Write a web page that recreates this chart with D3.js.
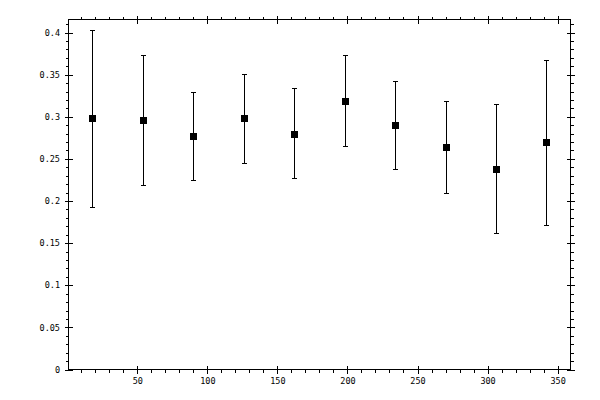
<!DOCTYPE html>
<html>
<head>
<meta charset="utf-8">
<script src="https://cdn.jsdelivr.net/npm/d3@7"></script>
<style>
	body { margin: 0; background: #fff; }
	text { font-family: 'DejaVu Sans Mono', monospace; font-size: 8.5px; fill: #000; }
</style>
</head>
<body>
<div id="chart"></div>
<script>
// angle bins (x) and measured values
xs = [18, 54, 90, 126, 162, 198, 234, 270, 306, 342];
means = [0.298, 0.296, 0.277, 0.298, 0.279, 0.319, 0.290, 0.264, 0.238, 0.270];
uppers = [0.403, 0.373, 0.329, 0.350, 0.333, 0.373, 0.342, 0.318, 0.314, 0.367];
lowers = [0.192, 0.218, 0.224, 0.245, 0.227, 0.265, 0.238, 0.209, 0.162, 0.171];

xMajor = [50, 100, 150, 200, 250, 300, 350];
yMajor = [0, 0.05, 0.1, 0.15, 0.2, 0.25, 0.3, 0.35, 0.4];

var width = 600, height = 400;
var margin = { top: 19.5, right: 29.5, bottom: 30.5, left: 68.5 };

function drawChart() {
	var svg = d3.select('#chart').append('svg')
		.attr('width', width)
		.attr('height', height);

	var x = d3.scaleLinear().domain([0.9, 359.2])
		.range([margin.left, width - margin.right]);
	var y = d3.scaleLinear().domain([0, 0.4155])
		.range([height - margin.bottom, margin.top]);

	var xMinor = d3.range(10, 360, 10).filter(d => d % 50 != 0);
	var yMinor = d3.range(1, 42).map(d => d / 100).filter(d => Math.round(d * 100) % 5 != 0);

	// frame
	svg.append('rect')
		.attr('x', margin.left).attr('y', margin.top)
		.attr('width', width - margin.left - margin.right)
		.attr('height', height - margin.top - margin.bottom)
		.attr('fill', 'none').attr('stroke', '#000')
		.attr('shape-rendering', 'crispEdges');

	// minor ticks, pointing out of the frame on every side
	function minor(axis, tx, ty) {
		svg.append('g')
			.attr('transform', 'translate(' + tx + ',' + ty + ')')
			.attr('shape-rendering', 'crispEdges')
			.call(axis.tickSize(3).tickFormat(''))
			.call(g => g.select('.domain').remove());
	}
	minor(d3.axisBottom(x).tickValues(xMinor), 0, height - margin.bottom);
	minor(d3.axisTop(x).tickValues(xMinor), 0, margin.top);
	minor(d3.axisLeft(y).tickValues(yMinor), margin.left, 0);
	minor(d3.axisRight(y).tickValues(yMinor), width - margin.right, 0);

	// major ticks cross the frame line
	function major(axis, tx, ty, vertical, labels, pad) {
		var g = svg.append('g')
			.attr('transform', 'translate(' + tx + ',' + ty + ')')
			.attr('shape-rendering', 'crispEdges')
			.call(axis.tickSize(4).tickPadding(pad));
		g.select('.domain').remove();
		if (vertical) g.selectAll('.tick line').attr('y1', -4).attr('y2', 4);
		else g.selectAll('.tick line').attr('x1', -4).attr('x2', 4);
		if (!labels) g.selectAll('.tick text').remove();
		g.attr('font-family', null).attr('font-size', null);
		return g;
	}
	major(d3.axisBottom(x).tickValues(xMajor).tickFormat(d3.format('d')), 0, height - margin.bottom, true, true, 4.5);
	major(d3.axisTop(x).tickValues(xMajor), 0, margin.top, true, false, 4);
	major(d3.axisLeft(y).tickValues(yMajor).tickFormat(d3.format('~g')), margin.left, 0, false, true, 4.5);
	major(d3.axisRight(y).tickValues(yMajor), width - margin.right, 0, false, false, 4);

	// error bars
	var pts = xs.map((d, i) => ({ x: d, m: means[i], hi: uppers[i], lo: lowers[i] }));
	var bars = svg.append('g').attr('stroke', '#000').attr('shape-rendering', 'crispEdges');
	bars.selectAll('.stem').data(pts).enter().append('line')
		.attr('x1', d => Math.round(x(d.x)) + 0.5).attr('x2', d => Math.round(x(d.x)) + 0.5)
		.attr('y1', d => y(d.hi)).attr('y2', d => y(d.lo));
	bars.selectAll('.cap-hi').data(pts).enter().append('line')
		.attr('x1', d => Math.round(x(d.x)) - 2).attr('x2', d => Math.round(x(d.x)) + 3)
		.attr('y1', d => y(d.hi)).attr('y2', d => y(d.hi));
	bars.selectAll('.cap-lo').data(pts).enter().append('line')
		.attr('x1', d => Math.round(x(d.x)) - 2).attr('x2', d => Math.round(x(d.x)) + 3)
		.attr('y1', d => y(d.lo)).attr('y2', d => y(d.lo));

	// square markers
	svg.append('g').selectAll('rect').data(pts).enter().append('rect')
		.attr('x', d => Math.round(x(d.x)) - 3)
		.attr('y', d => Math.round(y(d.m)) - 3)
		.attr('width', 7).attr('height', 7)
		.attr('fill', '#000')
		.attr('shape-rendering', 'crispEdges');
}

window.onload = drawChart;
</script>
</body>
</html>
